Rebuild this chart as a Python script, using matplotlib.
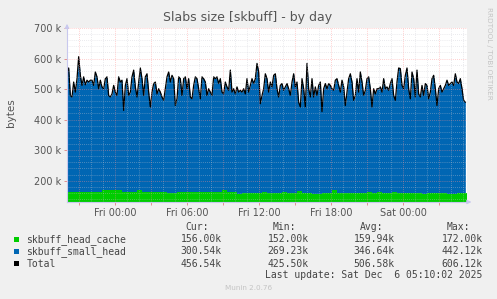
import matplotlib
matplotlib.use('Agg')
import matplotlib.pyplot as plt
import numpy as np
from matplotlib.patches import Rectangle

W, H = 497, 299

# ---- data (values in thousands of bytes) ----
total_k = [
    556, 569, 479, 474, 523, 490, 534, 606, 545, 512, 540, 514, 529, 523, 529, 529,
    512, 556, 540, 501, 529, 507, 501, 534, 540, 479, 474, 484, 512, 490, 479, 540,
    523, 529, 430, 512, 534, 479, 490, 540, 562, 507, 474, 523, 569, 534, 479, 540,
    550, 490, 441, 490, 518, 523, 484, 501, 490, 474, 463, 501, 540, 556, 523,
    545, 534, 446, 468, 540, 534, 479, 534, 540, 501, 534, 474, 468, 512, 540, 534,
    501, 468, 540, 534, 523, 479, 501, 490, 479, 540, 534, 540, 518, 534, 490, 484,
    523, 507, 496, 562, 490, 501, 484, 507, 490, 496, 490, 501, 484, 534, 490, 512,
    534, 518, 534, 584, 556, 452, 479, 501, 550, 534, 490, 523, 507, 545, 550,
    501, 474, 512, 518, 496, 507, 518, 501, 479, 523, 550, 507, 523, 457, 441, 534,
    501, 441, 584, 501, 474, 534, 474, 507, 479, 512, 523, 426, 501, 518, 501, 518,
    512, 501, 496, 529, 534, 512, 490, 529, 507, 446, 490, 534, 550, 523, 463, 479,
    534, 490, 556, 523, 479, 496, 534, 540, 501, 441, 501, 484, 501, 501, 507,
    490, 534, 501, 507, 496, 518, 534, 479, 463, 523, 569, 567, 512, 501, 545, 569,
    501, 468, 556, 534, 474, 562, 484, 474, 512, 479, 518, 512, 468, 490, 534, 545,
    501, 446, 501, 512, 490, 501, 512, 529, 512, 518, 523, 512, 550, 523, 518, 534,
    501, 463, 457,
]
cache_k = [
    162, 162, 163, 163, 163, 163, 163, 170, 170, 170, 170, 162, 162, 162, 170, 162,
    162, 162, 162, 162, 158, 158, 162, 163, 162, 162, 162, 163, 163, 163, 163, 168,
    163, 162, 156, 159, 160, 160, 160, 163, 160,
    160, 160, 163, 160, 160, 166, 160, 160, 157, 157, 160, 160, 170, 160, 160, 160,
    160, 160, 160, 164, 160, 162, 160, 160, 163, 160, 160, 159, 160, 160, 157, 160,
    160, 160, 160, 156, 156, 160, 160, 156,
]
start_h = -4.0          # Thu 20:00 relative to Fri 00:00
total_step_h = 5 / 36   # sample spacing of total series (hours)
cache_step_h = 5 / 12   # sample spacing of cache series (hours)
end_h = start_h + 400 / 12

xtick_hours = [0, 6, 12, 18, 24]
xtick_labels = ['Fri 00:00', 'Fri 06:00', 'Fri 12:00', 'Fri 18:00', 'Sat 00:00']
ytick_vals = [200000, 300000, 400000, 500000, 600000, 700000]
ytick_labels = ['200 k', '300 k', '400 k', '500 k', '600 k', '700 k']

legend_names = ['skbuff_head_cache', 'skbuff_small_head', 'Total']
legend_colors = ['#00CC00', '#0066B3', '#000000']
cur_vals = ['156.00k', '300.54k', '456.54k']
min_vals = ['152.00k', '269.23k', '425.50k']
avg_vals = ['159.94k', '346.64k', '506.58k']
max_vals = ['172.00k', '442.12k', '606.12k']

title = 'Slabs size [skbuff] - by day'
last_update = 'Last update: Sat Dec  6 05:10:02 2025'

# ---- figure ----
fig = plt.figure(figsize=(W / 100, H / 100), dpi=100, facecolor='#F0F0F0')
ax = fig.add_axes([67 / W, 1 - 202 / H, 400 / W, 174 / H])
ax.set_facecolor('white')

total = np.array(total_k) * 1000.0
cache = np.array(cache_k) * 1000.0
x_total = start_h + np.arange(len(total)) * total_step_h
x_cache = start_h + np.arange(len(cache)) * cache_step_h

ax.fill_between(x_total, 0, total, color='#0066B3', lw=0, zorder=1)
ax.fill_between(x_cache, 0, cache, step='post', color='#00CC00', lw=0, zorder=2)
ax.plot(x_total, total, color='black', lw=0.9, zorder=3)

ymin, ymax = 130000, 700000
ax.set_xlim(start_h, end_h)
ax.set_ylim(ymin, ymax)

# grid (drawn above data like rrdtool)
minor_c = (0.78, 0.78, 0.82, 0.5)
major_c = (1.0, 0.55, 0.55, 0.55)
for h in np.arange(-3, 30, 1):
    if h % 3 == 0:
        continue
    ax.axvline(h, color=minor_c, lw=0.6, ls=(0, (1, 1.5)), zorder=4)
for h in np.arange(-3, 30, 3):
    ax.axvline(h, color=major_c, lw=0.6, ls=(0, (1, 1.5)), zorder=5)
for v in np.arange(140000, 700001, 20000):
    if v % 100000 == 0:
        continue
    ax.axhline(v, color=minor_c, lw=0.6, ls=(0, (1, 1.5)), zorder=4)
for v in ytick_vals:
    ax.axhline(v, color=major_c, lw=0.6, ls=(0, (1, 1.5)), zorder=5)

for s in ['top', 'right']:
    ax.spines[s].set_visible(False)
for s in ['left', 'bottom']:
    ax.spines[s].set_color('#C8C8EE')
    ax.spines[s].set_linewidth(0.8)
    ax.spines[s].set_zorder(6)

major_x = list(np.arange(-3, 30, 3))
ax.set_xticks(major_x)
ax.set_xticklabels([xtick_labels[xtick_hours.index(h)] if h in xtick_hours else '' for h in major_x])
ax.set_yticks(ytick_vals)
ax.set_yticklabels(ytick_labels)
ax.tick_params(axis='both', colors='#E08080', length=2, width=0.6, labelsize=7, labelcolor='#555555')
ax.tick_params(axis='x', pad=2.5)
ax.tick_params(axis='y', pad=2.5)

# axis arrows
ax.annotate('', xy=(0, 1.04), xytext=(0, 0.98), xycoords='axes fraction',
            arrowprops=dict(arrowstyle='-|>', color='#C8C8EE', lw=0.8, mutation_scale=6), annotation_clip=False)
ax.annotate('', xy=(1.018, 0), xytext=(0.995, 0), xycoords='axes fraction',
            arrowprops=dict(arrowstyle='-|>', color='#C8C8EE', lw=0.8, mutation_scale=6), annotation_clip=False)

def fx(px):
    return px / W

def fy(py):
    return 1 - py / H

fig.text(fx(248), fy(18), title, ha='center', va='center', fontsize=9, color='#555555')
fig.text(fx(11), fy(113), 'bytes', ha='center', va='center', rotation=90, fontsize=7.5, color='#555555')
fig.text(fx(488.5), fy(53.5), 'RRDTOOL / TOBI OETIKER', ha='center', va='center', rotation=270,
         fontsize=5.2, color='#C4C4C4')

mono = dict(family='DejaVu Sans Mono', fontsize=7, color='#444444', va='center')
fig.text(fx(185), fy(226.7), 'Cur:', ha='left', **mono)
fig.text(fx(273), fy(226.7), 'Min:', ha='left', **mono)
fig.text(fx(360), fy(226.7), 'Avg:', ha='left', **mono)
fig.text(fx(447), fy(226.7), 'Max:', ha='left', **mono)
rows_y = [239.3, 251.5, 263.7]
for i, name in enumerate(legend_names):
    y = rows_y[i]
    fig.patches.append(Rectangle((fx(14), fy(y + 2.4)), 4.8 / W, 4.8 / H, transform=fig.transFigure,
                                 facecolor=legend_colors[i], edgecolor='none'))
    fig.text(fx(26.5), fy(y), name, ha='left', **mono)
    fig.text(fx(221.5), fy(y), cur_vals[i], ha='right', **mono)
    fig.text(fx(308.5), fy(y), min_vals[i], ha='right', **mono)
    fig.text(fx(394.5), fy(y), avg_vals[i], ha='right', **mono)
    fig.text(fx(482.5), fy(y), max_vals[i], ha='right', **mono)
fig.text(fx(482.5), fy(275.5), last_update, ha='right', **mono)
fig.text(fx(249), fy(288), 'Munin 2.0.76', ha='center', va='center', fontsize=5.2, color='#C4C4C4')

fig.savefig('out.png', dpi=100, facecolor=fig.get_facecolor())
